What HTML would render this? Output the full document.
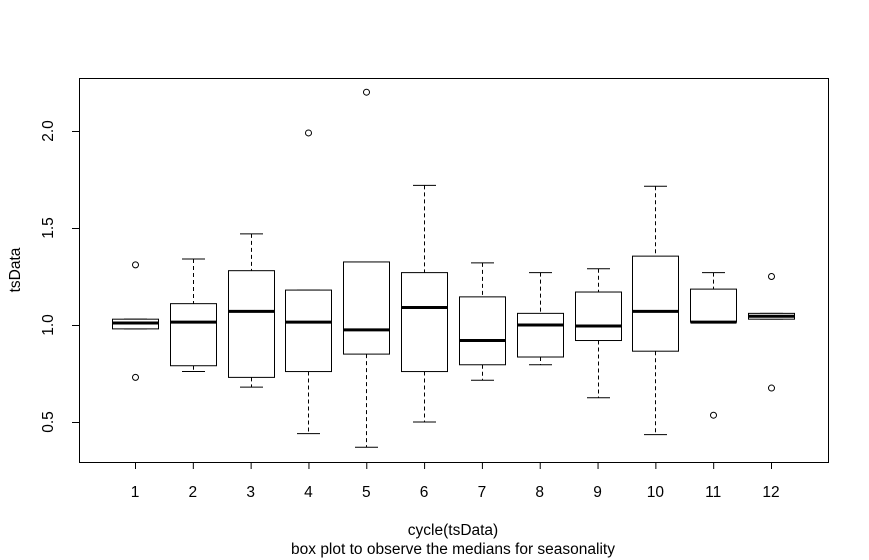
<!DOCTYPE html>
<html><head><meta charset="utf-8"><style>
body{margin:0;background:#fff}
svg{display:block;font-family:"Liberation Sans",Arial,sans-serif}
</style></head><body>
<svg id="chart" width="869" height="560"></svg>
<script>
const categories=["1","2","3","4","5","6","7","8","9","10","11","12"];
const lowerWhisker=[0.98,0.76,0.68,0.44,0.37,0.50,0.715,0.795,0.625,0.435,1.015,1.03];
const q1=[0.98,0.79,0.73,0.76,0.85,0.76,0.795,0.835,0.92,0.865,1.015,1.03];
const medians=[1.01,1.015,1.07,1.015,0.975,1.09,0.92,1.0,0.995,1.07,1.015,1.045];
const q3=[1.03,1.11,1.28,1.18,1.325,1.27,1.145,1.06,1.17,1.355,1.185,1.06];
const upperWhisker=[1.03,1.34,1.47,1.18,1.325,1.72,1.32,1.27,1.29,1.715,1.27,1.06];
const outliers=[[1.31,0.73],[],[],[1.99],[2.2],[],[],[],[],[],[0.535],[1.25,0.675]];
const yTicks=[0.5,1.0,1.5,2.0];
const yTickLabels=["0.5","1.0","1.5","2.0"];

const NS="http://www.w3.org/2000/svg";
const svg=document.getElementById('chart');
const X=i=>135+i*(771-135)/11;
const Y=v=>325-(v-1)*194;
function el(tag,attrs,parent){const e=document.createElementNS(NS,tag);for(const k in attrs)e.setAttribute(k,attrs[k]);(parent||svg).appendChild(e);return e;}
function txt(s,attrs){const t=el('text',Object.assign({'font-size':15.5,fill:'#000','text-anchor':'middle'},attrs));t.textContent=s;return t;}

const frame=el('rect',{x:79.5,y:78.5,width:749,height:384,fill:'none',stroke:'#000'});



const ya=el('g',{});


el('line',{x1:79.5,x2:79.5,y1:Y(yTicks[0]),y2:Y(yTicks[yTicks.length-1]),stroke:'#000'},ya);
yTicks.forEach((v,i)=>{
  el('line',{x1:72,x2:79.5,y1:Y(v)+0.5,y2:Y(v)+0.5,stroke:'#000'},ya);
  const t=txt(yTickLabels[i],{x:0,y:0,transform:`translate(53,${Y(v)}) rotate(-90)`});
  
  
  ya.appendChild(t);
});
const xa=el('g',{});


el('line',{x1:X(0),x2:X(11),y1:462.5,y2:462.5,stroke:'#000'},xa);
categories.forEach((c,i)=>{
  el('line',{x1:X(i)+0.5,x2:X(i)+0.5,y1:462.5,y2:469,stroke:'#000'},xa);
  const t=txt(c,{x:X(i),y:497});
  
  
  xa.appendChild(t);
});

categories.forEach((c,i)=>{
  const g=el('g',{});
  
  
  const cx=Math.round(X(i))+0.5, hw=23, ww=11.5;
  el('line',{x1:cx,x2:cx,y1:Y(upperWhisker[i]),y2:Y(q3[i]),stroke:'#000','stroke-dasharray':'4,3'},g);
  el('line',{x1:cx,x2:cx,y1:Y(q1[i]),y2:Y(lowerWhisker[i]),stroke:'#000','stroke-dasharray':'4,3'},g);
  el('line',{x1:cx-ww,x2:cx+ww,y1:Y(upperWhisker[i]),y2:Y(upperWhisker[i]),stroke:'#000'},g);
  el('line',{x1:cx-ww,x2:cx+ww,y1:Y(lowerWhisker[i]),y2:Y(lowerWhisker[i]),stroke:'#000'},g);
  el('rect',{x:cx-hw,y:Y(q3[i]),width:2*hw,height:Math.max(0.5,Y(q1[i])-Y(q3[i])),fill:'#fff',stroke:'#000'},g);
  el('line',{x1:cx-hw,x2:cx+hw,y1:Y(medians[i]),y2:Y(medians[i]),stroke:'#000','stroke-width':3},g);
  outliers[i].forEach(o=>el('circle',{cx:cx,cy:Y(o),r:3,fill:'none',stroke:'#000'},g));
});

let t=txt('tsData',{x:0,y:0,transform:'translate(20,270) rotate(-90)'});


t=txt('cycle(tsData)',{x:453,y:535});


t=txt('box plot to observe the medians for seasonality',{x:453,y:554});


</script>
</body></html>
